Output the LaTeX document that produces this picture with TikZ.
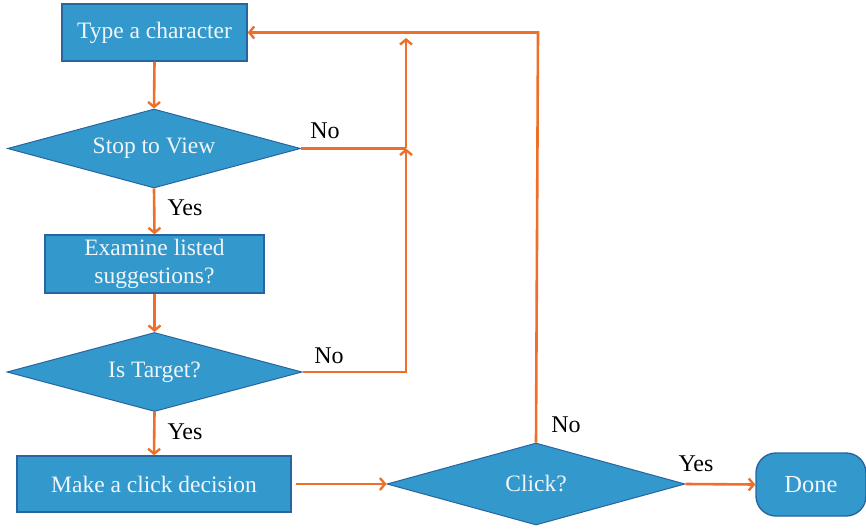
\documentclass[tikz,border=0pt]{standalone}
\usepackage{fontspec}
\setmainfont{Liberation Serif}
\usetikzlibrary{shapes.geometric,arrows.meta}
\definecolor{boxblue}{RGB}{51,153,204}
\definecolor{edgeblue}{RGB}{40,100,160}
\definecolor{flow}{RGB}{238,112,40}
\definecolor{boxtext}{RGB}{240,245,250}
\tikzset{
  procbox/.style={draw=edgeblue,line width=1.4pt,fill=boxblue,text=boxtext,
    font=\fontsize{23.5}{28}\selectfont,align=center,inner sep=0pt},
  decide/.style={diamond,draw=edgeblue,line width=1pt,fill=boxblue,text=boxtext,
    font=\fontsize{23.5}{28}\selectfont,inner sep=0pt,shape aspect=3.7},
  endbox/.style={rounded corners=20pt,draw=edgeblue,line width=1.4pt,fill=boxblue,text=boxtext,
    font=\fontsize{24.5}{28}\selectfont,inner sep=0pt},
  lbl/.style={font=\fontsize{24}{26}\selectfont,text=black,inner sep=0pt},
  conn/.style={draw=flow,line width=2.6pt,-{Straight Barb[length=5pt,width=12pt,line width=2.4pt]}},
  line/.style={draw=flow,line width=2.6pt}
}
\begin{document}
\begin{tikzpicture}[x=1pt,y=-1pt]
\useasboundingbox (0,0) rectangle (866,529);
\node[procbox,minimum width=185pt,minimum height=57pt] (t1) at (154.5,32.5) {Type a character};
\node[decide,minimum width=293pt,minimum height=79pt] (d1) at (154,148.5) {Stop to View};
\node[procbox,minimum width=219pt,minimum height=58pt] (b2) at (154.5,264) {Examine listed\\suggestions?};
\node[decide,minimum width=295pt,minimum height=79pt] (d2) at (154.5,372) {Is Target?};
\node[procbox,minimum width=274pt,minimum height=56pt] (b3) at (154,484) {Make a click decision};
\node[decide,minimum width=298pt,minimum height=82pt] (d3) at (536,484) {Click?};
\node[endbox,minimum width=110pt,minimum height=63pt] (done) at (811,484.5) {Done};

\coordinate (j1) at (406,148.5);
\coordinate (j2) at (406,372);
\coordinate (jtop) at (406,38);
\coordinate (c1) at (538,32.5);
\coordinate (m1) at (296,484);

\draw[conn] (t1.south) -- (d1.north);
\draw[conn] (d1.south) -- (b2.north);
\draw[conn] (b2.south) -- (d2.north);
\draw[conn] (d2.south) -- (b3.north);
\draw[conn] (m1) -- (d3.west);
\draw[conn] (d3.east) -- (done.west);
\draw[line] (d1.east) -- (j1);
\draw[conn] (d2.east) -- (j2) -- (j1);
\draw[conn] (j1) -- (jtop);
\draw[conn] (d3.north) -- (c1) -- (t1.east);

\node[lbl] (n1) at (325,131) {No};
\node[lbl] (y1) at (185,208) {Yes};
\node[lbl] (n2) at (329,356) {No};
\node[lbl] (y2) at (185,432) {Yes};
\node[lbl] (n3) at (566,425) {No};
\node[lbl] (y3) at (696,464) {Yes};
\end{tikzpicture}
\end{document}
